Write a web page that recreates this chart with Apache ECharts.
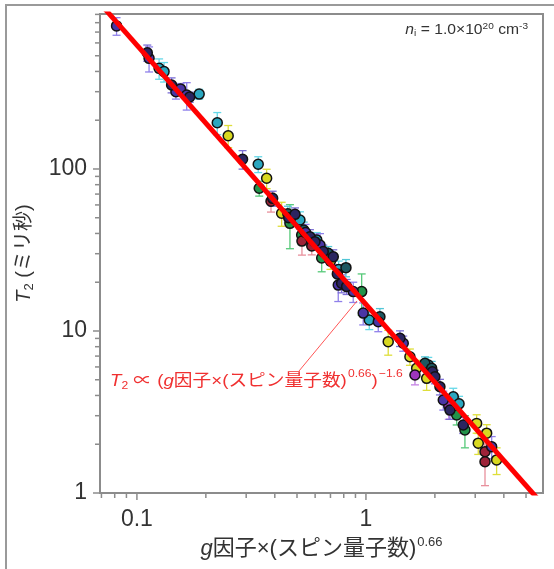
<!DOCTYPE html>
<html>
<head>
<meta charset="utf-8">
<script src="https://cdn.jsdelivr.net/npm/echarts@6/dist/echarts.min.js"></script>
<style>
  html, body { margin: 0; padding: 0; background: #fff; overflow: hidden; }
  #chart { position: absolute; left: 0; top: 0; width: 554px; height: 569px; }
  #frame { position: absolute; left: 5px; top: 4px; width: 600px; height: 600px;
           border-left: 2px solid #9a9a9a; border-top: 2px solid #9a9a9a; pointer-events: none; }
</style>
</head>
<body>
<div id="chart"></div>
<div id="frame"></div>
<script>
const FONT = "'Liberation Sans', Arial, 'Noto Sans CJK JP', sans-serif";

// axis ranges
const xRange = [0.069, 5.93];
const yRange = [1, 905];

// tick positions on the log axes
const xMajorTicks = [0.1, 1];
const xMinorTicks = [0.07, 0.08, 0.09, 0.2, 0.3, 0.4, 0.5, 0.6, 0.7, 0.8, 0.9, 2, 3, 4, 5];
const yMajorTicks = [1, 10, 100];
const yMinorTicks = [2, 3, 4, 5, 6, 7, 8, 9, 20, 30, 40, 50, 60, 70, 80, 90, 200, 300, 400, 500, 600, 700, 800, 900];

// power-law fit  T2 = prefactor * x^exponent
const fitExponent = -1.6;
const fitPrefactor = 14.6;

// measurements: [g·S^0.66, T2 (ms), error (ms)] per sample group
const indigoPts = [
  [0.0815, 764, 95], [0.113, 482, 85], [0.148, 300, 30], [0.155, 312, 25],
  [0.165, 286, 55], [0.545, 40.5, 5], [0.63, 33.9, 6], [0.757, 19.2, 4],
  [0.88, 17.5, 2.5], [0.973, 12.9, 2], [1.132, 11.4, 1.5], [1.455, 8.4, 0.9],
  [2.176, 3.75, 0.5], [3.54, 1.93, 0.3]
];
const navyPts = [
  [0.111, 522, 60], [0.1417, 330, 35], [0.17, 278, 20], [0.2893, 114.8, 15],
  [0.3915, 65.9, 7], [0.46, 50.0, 5], [0.49, 52.5, 5], [0.5694, 38.2, 4],
  [0.5988, 35.6, 4], [0.651, 30.9, 3], [0.72, 28.7, 3], [0.75, 22.5, 3],
  [0.783, 19.7, 2.5], [0.8235, 18.8, 2], [1.408, 9.02, 1], [1.95, 5.6, 0.5],
  [2.0, 5.22, 0.5], [2.104, 4.53, 0.5], [2.327, 3.25, 0.4], [2.66, 2.63, 0.3]
];
const tealPts = [
  [0.125, 418, 60], [0.1314, 399, 55], [0.187, 290, 20], [0.2243, 193, 30],
  [0.3386, 107, 12], [0.515, 48.4, 6], [0.61, 36.5, 4], [0.76, 24.0, 3],
  [1.034, 11.7, 1.5], [1.871, 6.17, 0.7], [2.406, 3.93, 0.5], [2.55, 3.55, 0.4]
];
const darkTealPts = [
  [0.456, 52.9, 6], [0.535, 42.0, 5], [0.6845, 30.2, 3], [0.818, 24.6, 3],
  [1.151, 12.25, 1.5], [1.81, 6.32, 0.6], [1.936, 5.89, 0.6]
];
const greenPts = [
  [0.342, 76, 8], [0.4657, 46.2, 14], [0.524, 39.1, 5], [0.641, 28.2, 5],
  [0.958, 17.5, 5], [2.49, 3.03, 0.4], [2.705, 2.45, 0.55]
];
const yellowPts = [
  [0.2504, 160.5, 25], [0.3685, 87.6, 12], [0.4285, 53.3, 9], [0.70, 27.0, 3],
  [1.251, 8.59, 1.5], [1.556, 6.94, 0.8], [1.665, 5.89, 0.7], [1.841, 5.1, 0.8],
  [3.043, 2.69, 0.35], [3.093, 2.03, 0.3], [3.366, 2.34, 0.3], [3.72, 1.6, 0.3]
];
const redPts = [
  [0.385, 63.2, 9], [0.5255, 35.9, 6.5], [0.58, 33.5, 4], [3.31, 1.80, 0.3],
  [3.31, 1.56, 0.45]
];
const magentaPts = [
  [1.637, 5.35, 0.7], [2.3, 3.45, 0.6]
];

// marker fill and error-bar colour of each group
const groups = [
  { pts: yellowPts,   fill: '#d8d820', bar: '#dede3a' },
  { pts: greenPts,    fill: '#23934a', bar: '#56c979' },
  { pts: redPts,      fill: '#9e2338', bar: '#e8909c' },
  { pts: magentaPts,  fill: '#9d36bb', bar: '#c480e4' },
  { pts: tealPts,     fill: '#2aa7c0', bar: '#66d8e8' },
  { pts: darkTealPts, fill: '#1d5861', bar: '#52c6d6' },
  { pts: indigoPts,   fill: '#4a35a5', bar: '#8f80ea' },
  { pts: navyPts,     fill: '#2b2560', bar: '#7c6fd6' }
];

const AXIS_GRAY = '#8c8c8c';
const chart = echarts.init(document.getElementById('chart'), null, { renderer: 'canvas' });

function isPow10(v) {
  const l = Math.log10(v);
  return Math.abs(l - Math.round(l)) < 1e-6;
}

function errorBarRenderer(color) {
  return function (params, api) {
    const x = api.value(0), y = api.value(1), e = api.value(2);
    const hi = api.coord([x, y + e]);
    const lo = api.coord([x, Math.max(y - e, 1e-3)]);
    const cap = 4;
    const st = { stroke: color, lineWidth: 1.3 };
    return {
      type: 'group',
      children: [
        { type: 'line', shape: { x1: hi[0], y1: hi[1], x2: lo[0], y2: lo[1] }, style: st },
        { type: 'line', shape: { x1: hi[0] - cap, y1: hi[1], x2: hi[0] + cap, y2: hi[1] }, style: st },
        { type: 'line', shape: { x1: lo[0] - cap, y1: lo[1], x2: lo[0] + cap, y2: lo[1] }, style: st }
      ]
    };
  };
}

function tickRenderer(axis, len) {
  return function (params, api) {
    const st = { stroke: AXIS_GRAY, lineWidth: 1.5 };
    if (axis === 'x') {
      const p = api.coord([api.value(0), yRange[0]]);
      return { type: 'line', shape: { x1: p[0], y1: p[1] + 1, x2: p[0], y2: p[1] + 1 + len }, style: st };
    }
    const p = api.coord([xRange[0], api.value(1)]);
    return { type: 'line', shape: { x1: p[0] - 1, y1: p[1], x2: p[0] - 1 - len, y2: p[1] }, style: st };
  };
}

const series = [];

// error bars (behind markers)
groups.forEach(g => {
  series.push({
    type: 'custom',
    dimensions: ['x', 'y', 'err'],
    encode: { x: 0, y: 1 },
    data: g.pts,
    renderItem: errorBarRenderer(g.bar),
    clip: true,
    z: 2,
    silent: true
  });
});

// markers
groups.forEach(g => {
  series.push({
    type: 'scatter',
    data: g.pts.map(p => [p[0], p[1]]),
    symbol: 'circle',
    symbolSize: 10,
    itemStyle: { color: g.fill, borderColor: '#111', borderWidth: 1.5, opacity: 1 },
    z: 3,
    silent: true
  });
});

// power-law fit line
series.push({
  type: 'line',
  data: xRange.map(x => [x, fitPrefactor * Math.pow(x, fitExponent)]),
  showSymbol: false,
  lineStyle: { color: '#ff0000', width: 5 },
  clip: true,
  z: 5,
  silent: true
});

// axis ticks (outward, major and minor)
[['x', xMajorTicks, 6], ['x', xMinorTicks, 4], ['y', yMajorTicks, 6], ['y', yMinorTicks, 4]].forEach(([axis, vals, len]) => {
  series.push({
    type: 'custom',
    data: vals.map(v => axis === 'x' ? [v, yRange[0]] : [xRange[0], v]),
    encode: { x: 0, y: 1 },
    renderItem: tickRenderer(axis, len),
    clip: false,
    z: 6,
    silent: true
  });
});

chart.setOption({
  animation: false,
  textStyle: { fontFamily: FONT },
  grid: { left: 100, right: 11, top: 14, bottom: 76, show: true, borderColor: AXIS_GRAY, borderWidth: 2, backgroundColor: 'transparent' },
  xAxis: {
    type: 'log', logBase: 10, min: xRange[0], max: xRange[1],
    axisLine: { show: true, lineStyle: { color: AXIS_GRAY, width: 2 } },
    axisTick: { show: false }, splitLine: { show: false },
    axisLabel: {
      fontSize: 23, color: '#333', margin: 15, fontFamily: FONT,
      formatter: v => isPow10(v) ? String(Math.round(v * 10) / 10) : ''
    },
    name: '{i|g}因子×(スピン量子数){sup|0.66}',
    nameLocation: 'middle', nameGap: 40,
    nameTextStyle: {
      fontSize: 22, color: '#333', fontFamily: FONT,
      rich: {
        i: { fontSize: 22, fontStyle: 'italic', color: '#333', fontFamily: FONT },
        sup: { fontSize: 13, color: '#333', padding: [0, 0, 13, 1], fontFamily: FONT }
      }
    }
  },
  yAxis: {
    type: 'log', logBase: 10, min: yRange[0], max: yRange[1],
    axisLine: { show: true, lineStyle: { color: AXIS_GRAY, width: 2 } },
    axisTick: { show: false }, splitLine: { show: false },
    axisLabel: {
      fontSize: 23, color: '#333', margin: 13, fontFamily: FONT,
      formatter: v => isPow10(v) ? String(Math.round(v)) : ''
    },
    name: '{i|T}{sub|2} (ミリ秒)',
    nameLocation: 'middle', nameGap: 64, nameRotate: 90,
    nameTextStyle: {
      fontSize: 20, color: '#333', fontFamily: FONT,
      rich: {
        i: { fontSize: 20, fontStyle: 'italic', color: '#333', fontFamily: FONT },
        sub: { fontSize: 13, color: '#333', padding: [10, 0, 0, 0], fontFamily: FONT }
      }
    }
  },
  graphic: [
    {
      type: 'line', z: 10,
      shape: { x1: 299, y1: 371, x2: 357, y2: 301 },
      style: { stroke: '#ff5555', lineWidth: 1 }
    },
    {
      type: 'text', z: 10, left: 110, top: 368, scaleX: 1.1,
      style: {
        text: '{i|T}{sub|2}{n| ∝ (}{i|g}{n|因子×(スピン量子数)}{sup|0.66}{n|)}{sup|−1.6}',
        fill: '#f03030', fontFamily: FONT, fontSize: 17,
        rich: {
          n: { fontSize: 17, fill: '#f03030', fontFamily: FONT },
          i: { fontSize: 17, fontStyle: 'italic', fill: '#f03030', fontFamily: FONT },
          sub: { fontSize: 11, fill: '#f03030', padding: [9, 0, 0, 0], fontFamily: FONT },
          sup: { fontSize: 11, fill: '#f03030', padding: [0, 0, 15, 1], fontFamily: FONT }
        }
      }
    },
    {
      type: 'text', z: 10, right: 26, top: 22, scaleX: 1.12,
      style: {
        text: '{i|n}{sub|i}{n| = 1.0×10}{sup|20}{n| cm}{sup|-3}',
        fill: '#333', fontFamily: FONT, fontSize: 14,
        rich: {
          n: { fontSize: 14, fill: '#333', fontFamily: FONT },
          i: { fontSize: 14, fontStyle: 'italic', fill: '#333', fontFamily: FONT },
          sub: { fontSize: 9, fill: '#333', padding: [7, 0, 0, 0], fontFamily: FONT },
          sup: { fontSize: 9, fill: '#333', padding: [0, 0, 8, 0], fontFamily: FONT }
        }
      }
    }
  ],
  series: series
});
</script>
</body>
</html>
